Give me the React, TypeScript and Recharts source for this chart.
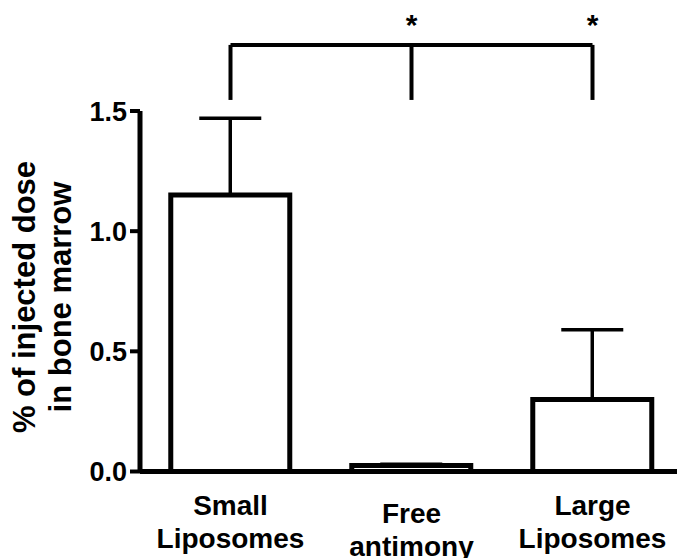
import { Bar, BarChart, ErrorBar, ReferenceDot, ReferenceLine, XAxis, YAxis } from 'recharts'

const groups = ['Small Liposomes', 'Free antimony', 'Large Liposomes']
const doseValues = [1.15, 0.025, 0.3]
const doseErrors = [0.32, 0.005, 0.29]
const yTicks = [0, 0.5, 1.0, 1.5]
const yLabelLines = ['% of injected dose', 'in bone marrow']

// significance bracket: first group vs the other two
const bracketFrom = groups[0]
const bracketTargets = [groups[1], groups[2]]

const data = groups.map((name, i) => ({
  name,
  value: doseValues[i],
  err: [0, doseErrors[i]],
}))

const FONT = '"Liberation Sans", Arial, sans-serif'
const BRACKET_LOW = 1.546
const BRACKET_HIGH = 1.775
const STAR_Y = 1.86

function GroupTick({ x, y, payload, index }: any) {
  const lines = String(payload.value).split(' ')
  const shift = index === 1 ? 8 : 0
  return (
    <g transform={`translate(${x},${y})`}>
      {lines.map((t, i) => (
        <text
          key={i}
          x={0}
          y={26 + shift + i * 33}
          textAnchor="middle"
          dominantBaseline="central"
          fontFamily={FONT}
          fontWeight="bold"
          fontSize={28}
          fill="#000"
        >
          {t}
        </text>
      ))}
    </g>
  )
}

function YTitle() {
  const cy = 297
  return (
    <g>
      {yLabelLines.map((t, i) => {
        const cx = 24 + i * 36
        return (
          <text
            key={i}
            x={cx}
            y={cy}
            transform={`rotate(-90 ${cx} ${cy})`}
            textAnchor="middle"
            dominantBaseline="central"
            fontFamily={FONT}
            fontWeight="bold"
            fontSize={31}
            fill="#000"
          >
            {t}
          </text>
        )
      })}
    </g>
  )
}

const Star = (p: any) => (
  <text
    x={p.cx}
    y={p.cy}
    textAnchor="middle"
    dominantBaseline="central"
    fontFamily={FONT}
    fontWeight="bold"
    fontSize={30}
    fill="#000"
  >
    *
  </text>
)

export default function App() {
  return (
    <div
      style={{
        position: 'absolute',
        left: 0,
        top: 0,
        width: 677,
        height: 558,
        overflow: 'hidden',
        background: '#fff',
      }}
    >
      <BarChart
        width={690}
        height={558}
        data={data}
        margin={{ top: 111, right: 7, bottom: 6.5, left: 0 }}
        barCategoryGap="17%"
      >
        <XAxis
          dataKey="name"
          height={80}
          tickLine={false}
          axisLine={{ stroke: '#000', strokeWidth: 5 }}
          tick={<GroupTick />}
          interval={0}
        />
        <YAxis
          width={140}
          domain={[0, 1.5]}
          ticks={yTicks}
          tickFormatter={(v: number) => v.toFixed(1)}
          tickSize={10}
          tickMargin={3}
          axisLine={{ stroke: '#000', strokeWidth: 5 }}
          tickLine={{ stroke: '#000', strokeWidth: 4 }}
          tick={{ fill: '#000', fontSize: 27, fontWeight: 'bold', fontFamily: FONT }}
        />
        <Bar
          dataKey="value"
          fill="#fff"
          stroke="#000"
          strokeWidth={5}
          isAnimationActive={false}
        >
          <ErrorBar dataKey="err" width={31} stroke="#000" strokeWidth={3.5} />
        </Bar>
        <ReferenceLine
          segment={[
            { x: bracketFrom, y: BRACKET_HIGH },
            { x: bracketTargets[1], y: BRACKET_HIGH },
          ]}
          stroke="#000"
          strokeWidth={4}
          ifOverflow="visible"
        />
        {[bracketFrom, ...bracketTargets].map((g) => (
          <ReferenceLine
            key={g}
            segment={[
              { x: g, y: BRACKET_LOW },
              { x: g, y: BRACKET_HIGH },
            ]}
            stroke="#000"
            strokeWidth={4}
            ifOverflow="visible"
          />
        ))}
        {bracketTargets.map((g) => (
          <ReferenceDot key={g} x={g} y={STAR_Y} ifOverflow="visible" shape={Star} />
        ))}
        <YTitle />
      </BarChart>
    </div>
  )
}
